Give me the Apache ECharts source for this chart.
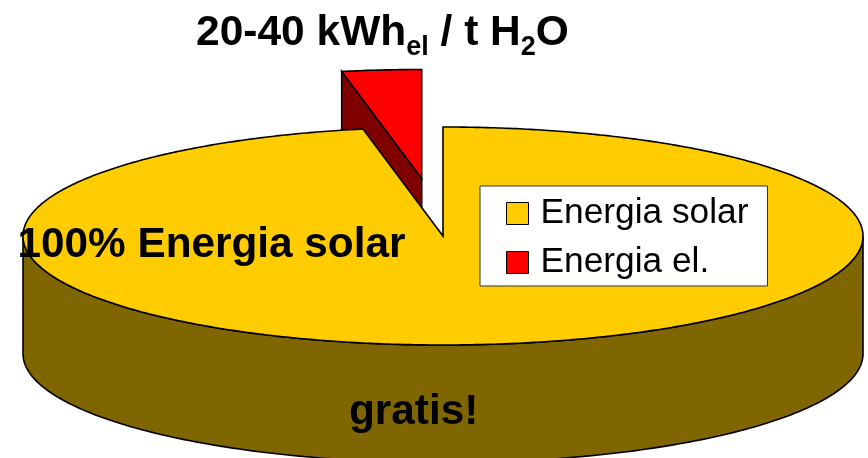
<!DOCTYPE html>
<html><head><meta charset="utf-8">
<style>html,body{margin:0;padding:0;background:#fff}#c{width:868px;height:458px}</style>
<script src="https://cdn.jsdelivr.net/npm/echarts@6/dist/echarts.min.js"></script>
</head><body><div id="c"></div>
<script>
var categories = ['Energia solar', 'Energia el.'];
var shares = [96.95, 3.05];
var topColors = ['#FFCC00', '#FF0000'];
var sideColors = ['#806600', '#800000'];
var explode = [0, 0.53];
var depth = 1.08;           // wall height in disc units

var total = shares[0] + shares[1];
function startAngle(i){ var s = 0; for (var k = 0; k < i; k++) s += shares[k]; return s / total * 360; }

function makeRender(i){
  return function(params, api){
    var a0 = startAngle(i), a1 = a0 + api.value(0) / total * 360;
    var mid = (a0 + a1) / 2 * Math.PI / 180;
    var ox = Math.sin(mid) * explode[i], oy = Math.cos(mid) * explode[i];
    function P(r, deg, d){
      var t = deg * Math.PI / 180;
      return api.coord([ox + r * Math.sin(t), oy + r * Math.cos(t) - (d || 0)]);
    }
    var stroke = {stroke:'#000', lineWidth:1.6, lineJoin:'miter', fill:sideColors[i]};
    var kids = [];
    function poly(points, style){ kids.push({type:'polygon', shape:{points:points}, style:style, silent:true}); }
    function face(deg){ poly([P(0,0,0), P(1,deg,0), P(1,deg,depth), P(0,0,depth)], stroke); }
    // visible radial cut faces
    if (Math.sin(a0 * Math.PI / 180) < -1e-6) face(a0);
    if (Math.sin(a1 * Math.PI / 180) > 1e-6) face(a1);
    // visible front wall
    var f0 = Math.max(a0, 90), f1 = Math.min(a1, 270);
    if (f1 > f0) {
      var w = [], d;
      for (d = f0; d <= f1; d += 1) w.push(P(1, d, 0));
      for (d = f1; d >= f0; d -= 1) w.push(P(1, d, depth));
      poly(w, stroke);
    }
    // top face
    var t = [P(0, 0, 0)];
    for (var a = a0; a < a1; a += 0.5) t.push(P(1, a, 0));
    t.push(P(1, a1, 0));
    poly(t, {stroke:'#000', lineWidth:1.6, lineJoin:'miter', fill:topColors[i]});
    return {type:'group', children:kids};
  };
}

var chart = echarts.init(document.getElementById('c'), null, {renderer:'canvas'});
var sans = '"Liberation Sans", Arial, sans-serif';
chart.setOption({
  animation:false,
  backgroundColor:'#fff',
  grid:{left:23, width:840, top:127, height:218},
  xAxis:{type:'value', min:-1, max:1, show:false},
  yAxis:{type:'value', min:-1, max:1, show:false},
  legend:{
    orient:'vertical', left:480, top:186,
    padding:[10,19,6,26], itemGap:14,
    backgroundColor:'#fff', borderColor:'#333', borderWidth:1, borderRadius:0,
    itemWidth:22, itemHeight:22, icon:'rect', itemStyle:{borderColor:'#000', borderWidth:1},
    selectedMode:false,
    data:categories,
    textStyle:{fontFamily:sans, fontSize:35.3, color:'#000', padding:[2,0,0,7]}
  },
  title:[
    {text:'{a|20-40 kWh}{s|el}{a| / t H}{s|2}{a|O}', left:196, top:6, padding:0,
     textStyle:{rich:{
       a:{fontFamily:sans, fontWeight:'bold', fontSize:42.5, color:'#000', lineHeight:46},
       s:{fontFamily:sans, fontWeight:'bold', fontSize:27, color:'#000', padding:[28,0,0,0]}
     }}},
    {text:'100% Energia solar', left:17.5, top:224, padding:0,
     textStyle:{fontFamily:sans, fontWeight:'bold', fontSize:42.3, color:'#000'}},
    {text:'gratis!', left:349, top:391, padding:0,
     textStyle:{fontFamily:sans, fontWeight:'bold', fontSize:42.3, color:'#000'}}
  ],
  series:[
    {type:'custom', name:categories[1], z:1, coordinateSystem:'cartesian2d', clip:false,
     itemStyle:{color:topColors[1]}, renderItem:makeRender(1), data:[[shares[1]]], encode:{value:0}},
    {type:'custom', name:categories[0], z:2, coordinateSystem:'cartesian2d', clip:false,
     itemStyle:{color:topColors[0]}, renderItem:makeRender(0), data:[[shares[0]]], encode:{value:0}}
  ]
});
</script></body></html>
